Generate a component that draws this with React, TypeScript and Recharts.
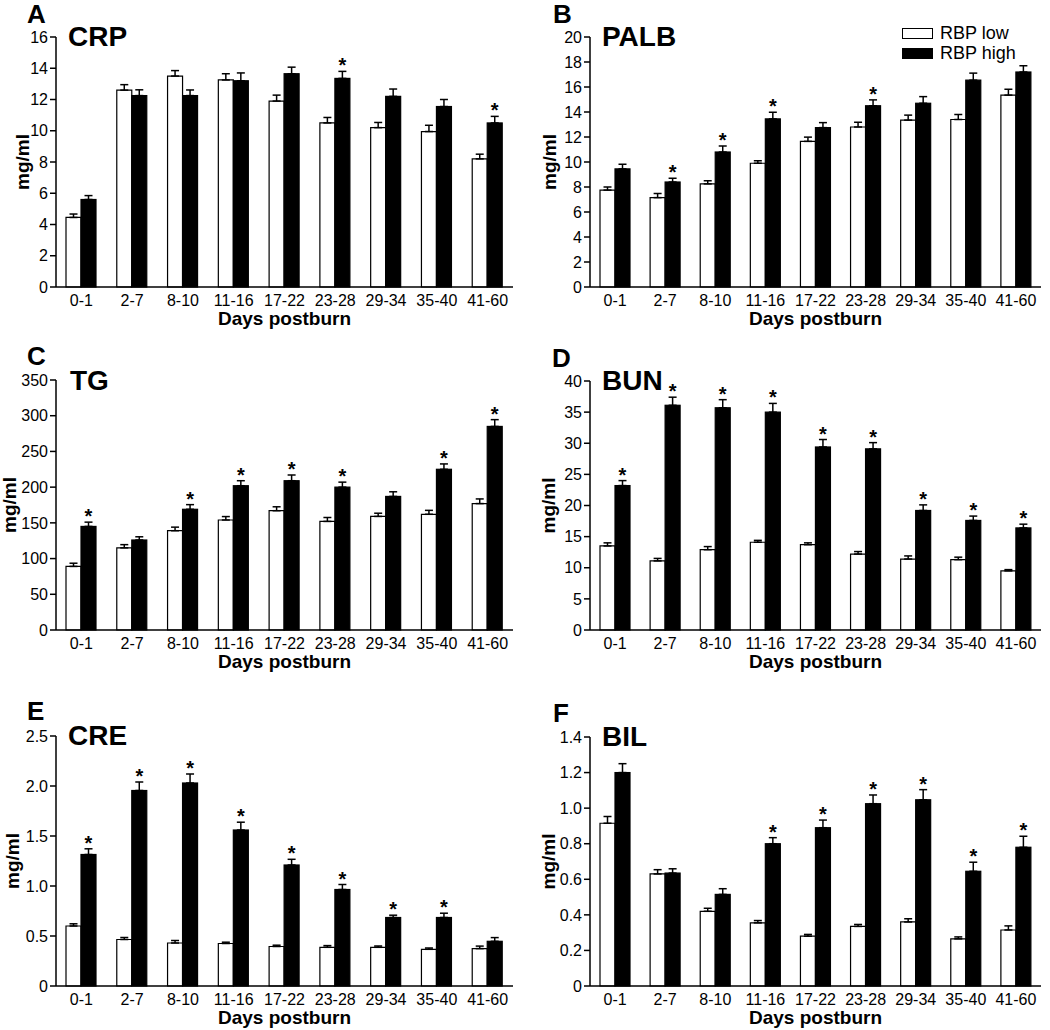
import React from 'react';
import { BarChart, Bar, XAxis, YAxis, ErrorBar, Legend } from 'recharts';

const FONT = '"Liberation Sans", Arial, Helvetica, sans-serif';

const categories = ['0-1', '2-7', '8-10', '11-16', '17-22', '23-28', '29-34', '35-40', '41-60'];
const seriesNames = ['RBP low', 'RBP high'];

// A: CRP
const crpLow = [4.45, 12.6, 13.5, 13.25, 11.9, 10.5, 10.2, 9.95, 8.2];
const crpLowErr = [0.22, 0.35, 0.35, 0.4, 0.38, 0.35, 0.33, 0.4, 0.3];
const crpHigh = [5.6, 12.25, 12.25, 13.2, 13.65, 13.35, 12.2, 11.55, 10.5];
const crpHighErr = [0.25, 0.37, 0.36, 0.5, 0.42, 0.45, 0.47, 0.45, 0.42];
const crpSig = ['23-28', '41-60'];
const crpTicks = [0, 2, 4, 6, 8, 10, 12, 14, 16];

// B: PALB
const palbLow = [7.75, 7.15, 8.25, 9.9, 11.65, 12.8, 13.35, 13.4, 15.35];
const palbLowErr = [0.25, 0.33, 0.25, 0.2, 0.34, 0.38, 0.4, 0.4, 0.47];
const palbHigh = [9.45, 8.4, 10.8, 13.45, 12.75, 14.5, 14.7, 16.55, 17.2];
const palbHighErr = [0.37, 0.3, 0.48, 0.53, 0.4, 0.47, 0.53, 0.56, 0.5];
const palbSig = ['2-7', '8-10', '11-16', '23-28'];
const palbTicks = [0, 2, 4, 6, 8, 10, 12, 14, 16, 18, 20];

// C: TG
const tgLow = [89, 115, 139, 154, 167, 152, 159, 162, 177];
const tgLowErr = [4.5, 4.5, 5, 4.8, 5.5, 5.5, 4.5, 5.5, 6.5];
const tgHigh = [145, 126, 169, 202, 209, 200, 187, 225, 285];
const tgHighErr = [6, 4.5, 6.5, 7, 8, 7, 6.5, 7.5, 9.5];
const tgSig = ['0-1', '8-10', '11-16', '17-22', '23-28', '35-40', '41-60'];
const tgTicks = [0, 50, 100, 150, 200, 250, 300, 350];

// D: BUN
const bunLow = [13.5, 11.1, 12.9, 14.1, 13.7, 12.2, 11.4, 11.3, 9.5];
const bunLowErr = [0.5, 0.4, 0.5, 0.3, 0.3, 0.4, 0.5, 0.4, 0.2];
const bunHigh = [23.2, 36.1, 35.7, 35.0, 29.4, 29.1, 19.2, 17.6, 16.4];
const bunHighErr = [0.8, 1.3, 1.3, 1.4, 1.2, 1.0, 0.9, 0.7, 0.6];
const bunSig = ['0-1', '2-7', '8-10', '11-16', '17-22', '23-28', '29-34', '35-40', '41-60'];
const bunTicks = [0, 5, 10, 15, 20, 25, 30, 35, 40];

// E: CRE
const creLow = [0.6, 0.465, 0.43, 0.425, 0.395, 0.387, 0.387, 0.367, 0.374];
const creLowErr = [0.022, 0.02, 0.025, 0.013, 0.013, 0.017, 0.013, 0.013, 0.025];
const creHigh = [1.315, 1.955, 2.03, 1.56, 1.21, 0.965, 0.685, 0.685, 0.447];
const creHighErr = [0.057, 0.085, 0.09, 0.078, 0.057, 0.05, 0.023, 0.043, 0.037];
const creSig = ['0-1', '2-7', '8-10', '11-16', '17-22', '23-28', '29-34', '35-40'];
const creTicks = [0, 0.5, 1.0, 1.5, 2.0, 2.5];

// F: BIL
const bilLow = [0.915, 0.63, 0.42, 0.355, 0.28, 0.335, 0.36, 0.265, 0.315];
const bilLowErr = [0.038, 0.024, 0.017, 0.013, 0.01, 0.011, 0.018, 0.011, 0.023];
const bilHigh = [1.2, 0.635, 0.515, 0.8, 0.89, 1.025, 1.047, 0.645, 0.78];
const bilHighErr = [0.05, 0.024, 0.032, 0.034, 0.043, 0.049, 0.057, 0.051, 0.062];
const bilSig = ['11-16', '17-22', '23-28', '29-34', '35-40', '41-60'];
const bilTicks = [0, 0.2, 0.4, 0.6, 0.8, 1.0, 1.2, 1.4];

const panels = [
  { letter: 'A', title: 'CRP', left: 0, top: 0, width: 520, height: 340, plotLeft: 56, plotRight: 513, plotTop: 37, plotBottom: 287,
    yLabelX: 24, letterX: 27, letterY: 23, titleX: 68, titleY: 46, ticks: crpTicks, decimals: 0,
    low: crpLow, lowErr: crpLowErr, high: crpHigh, highErr: crpHighErr, sig: crpSig },
  { letter: 'B', title: 'PALB', left: 520, top: 0, width: 530, height: 340, plotLeft: 70, plotRight: 521, plotTop: 37, plotBottom: 287,
    yLabelX: 31, letterX: 553, letterY: 23, titleX: 602, titleY: 46, ticks: palbTicks, decimals: 0,
    low: palbLow, lowErr: palbLowErr, high: palbHigh, highErr: palbHighErr, sig: palbSig, legend: true },
  { letter: 'C', title: 'TG', left: 0, top: 330, width: 520, height: 355, plotLeft: 56, plotRight: 513, plotTop: 50, plotBottom: 300,
    yLabelX: 11, letterX: 27, letterY: 365, titleX: 70, titleY: 390, ticks: tgTicks, decimals: 0,
    low: tgLow, lowErr: tgLowErr, high: tgHigh, highErr: tgHighErr, sig: tgSig },
  { letter: 'D', title: 'BUN', left: 520, top: 330, width: 530, height: 355, plotLeft: 70, plotRight: 521, plotTop: 51, plotBottom: 300,
    yLabelX: 30, letterX: 552, letterY: 367, titleX: 602, titleY: 390, ticks: bunTicks, decimals: 0,
    low: bunLow, lowErr: bunLowErr, high: bunHigh, highErr: bunHighErr, sig: bunSig },
  { letter: 'E', title: 'CRE', left: 0, top: 670, width: 520, height: 360, plotLeft: 56, plotRight: 513, plotTop: 66, plotBottom: 316,
    yLabelX: 14, letterX: 27, letterY: 720, titleX: 68, titleY: 745, ticks: creTicks, decimals: 1,
    low: creLow, lowErr: creLowErr, high: creHigh, highErr: creHighErr, sig: creSig },
  { letter: 'F', title: 'BIL', left: 520, top: 670, width: 530, height: 360, plotLeft: 70, plotRight: 521, plotTop: 67, plotBottom: 316,
    yLabelX: 30, letterX: 553, letterY: 722, titleX: 602, titleY: 746, ticks: bilTicks, decimals: 1,
    low: bilLow, lowErr: bilLowErr, high: bilHigh, highErr: bilHighErr, sig: bilSig },
];

// black bar plus the significance star above its error bar
const HighBar = (props: any) => {
  const { x, y, width, height, payload } = props;
  const perUnit = payload.high ? height / payload.high : 0;
  const errTop = y - payload.highErr[1] * perUnit;
  return (
    <g>
      <rect x={x} y={y} width={width} height={height} fill="#000" stroke="#000" strokeWidth={1.2} />
      {payload.sig && (
        <text x={x + width / 2} y={errTop + 1} textAnchor="middle" fontSize={20} fontWeight="bold" fontFamily={FONT} fill="#000">
          *
        </text>
      )}
    </g>
  );
};

const LegendBox = () => (
  <div style={{ fontFamily: FONT, fontSize: 18, color: '#000' }}>
    {seriesNames.map((name, i) => (
      <div key={name} style={{ display: 'flex', alignItems: 'center', height: 20 }}>
        <span
          style={{
            display: 'inline-block', width: 31, height: 11, boxSizing: 'border-box',
            border: '1.5px solid #000', background: i === 0 ? '#fff' : '#000', marginRight: 7,
          }}
        />
        {name}
      </div>
    ))}
  </div>
);

const Panel = ({ p }: { p: any }) => {
  const data = categories.map((cat, i) => ({
    cat,
    low: p.low[i],
    high: p.high[i],
    lowErr: [0, p.lowErr[i]],
    highErr: [0, p.highErr[i]],
    sig: p.sig.includes(cat),
  }));
  const max = p.ticks[p.ticks.length - 1];
  const fmt = (v: number) => (v === 0 ? '0' : v.toFixed(p.decimals));
  const midY = (p.plotTop + p.plotBottom) / 2;
  const midX = (p.plotLeft + p.plotRight) / 2;
  const axisStyle = { stroke: '#000', strokeWidth: 1.5 };
  const tickStyle = { fill: '#000', fontSize: 16, fontFamily: FONT };

  return (
    <div style={{ position: 'absolute', left: p.left, top: p.top }}>
      <BarChart
        width={p.width}
        height={p.height}
        data={data}
        margin={{ top: p.plotTop, right: p.width - p.plotRight, bottom: 0, left: 0 }}
        barSize={15}
        barGap={0}
      >
        <XAxis
          dataKey="cat"
          height={p.height - p.plotBottom}
          tickLine={false}
          axisLine={axisStyle}
          tick={tickStyle}
          interval={0}
          label={() => (
            <text x={midX} y={p.plotBottom + 38} textAnchor="middle" fontSize={19} fontWeight="bold" fontFamily={FONT} fill="#000">
              Days postburn
            </text>
          )}
        />
        <YAxis
          width={p.plotLeft}
          domain={[0, max]}
          ticks={p.ticks}
          interval={0}
          tickFormatter={fmt}
          tickSize={6}
          tickLine={axisStyle}
          axisLine={axisStyle}
          tick={tickStyle}
          label={() => (
            <text
              x={p.yLabelX + 5}
              y={midY}
              transform={`rotate(-90 ${p.yLabelX + 5} ${midY})`}
              textAnchor="middle"
              fontSize={19}
              fontWeight="bold"
              fontFamily={FONT}
              fill="#000"
            >
              mg/ml
            </text>
          )}
        />
        {p.legend && (
          <Legend
            layout="vertical"
            align="center"
            verticalAlign="middle"
            content={() => <LegendBox />}
            wrapperStyle={{ left: 382, top: 23, right: 'auto', bottom: 'auto', width: 'auto' }}
          />
        )}
        <Bar dataKey="low" name={seriesNames[0]} fill="#fff" stroke="#000" strokeWidth={1.2} isAnimationActive={false}>
          <ErrorBar dataKey="lowErr" width={4} stroke="#000" strokeWidth={1.5} direction="y" isAnimationActive={false} />
        </Bar>
        <Bar dataKey="high" name={seriesNames[1]} fill="#000" shape={HighBar} isAnimationActive={false}>
          <ErrorBar dataKey="highErr" width={4} stroke="#000" strokeWidth={1.5} direction="y" isAnimationActive={false} />
        </Bar>
      </BarChart>
    </div>
  );
};

export default function App() {
  return (
    <div style={{ position: 'absolute', left: 0, top: 0, width: 1050, height: 1030, background: '#fff', overflow: 'hidden' }}>
      {panels.map((p) => (
        <Panel key={p.letter} p={p} />
      ))}
      <svg width={1050} height={1030} style={{ position: 'absolute', left: 0, top: 0, pointerEvents: 'none' }}>
        {panels.map((p) => (
          <g key={p.letter} fontFamily={FONT} fontWeight="bold" fill="#000">
            <text x={p.letterX} y={p.letterY} fontSize={26}>{p.letter}</text>
            <text x={p.titleX} y={p.titleY} fontSize={28}>{p.title}</text>
          </g>
        ))}
      </svg>
    </div>
  );
}
